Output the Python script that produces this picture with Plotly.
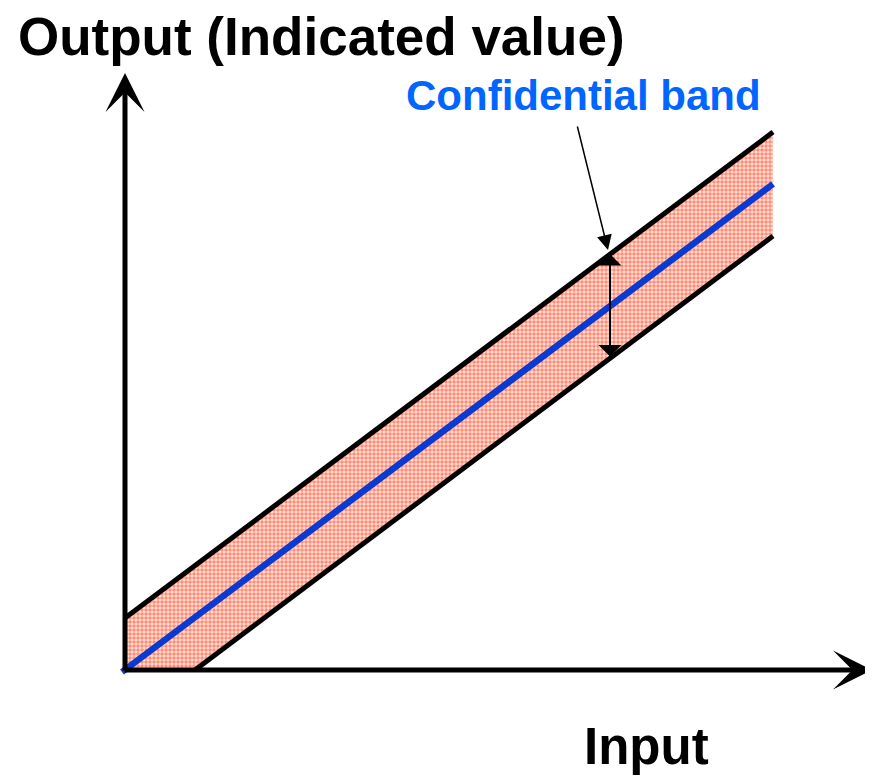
import plotly.graph_objects as go

# data units = pixels right of / above the origin of the sketch
BLUE_X = [-3, 648]
BLUE_Y = [-2, 486]
UPPER_X = [0, 648]
UPPER_Y = [52, 538]
LOWER_X = [70, 648]
LOWER_Y = [0, 434]
BAND_X = [0, 0, 648, 648, 70, 0]
BAND_Y = [0, 52, 538, 434, 0, 0]
GAP_X = 485
GAP_TOP = 416
GAP_BOTTOM = 312

BLACK = '#000000'
LINE_BLUE = '#0a3ad0'
TEXT_BLUE = '#0066ff'
FONT = 'Liberation Sans, Arial, sans-serif'
W, H = 865, 769  # page body keeps an 8px margin

fig = go.Figure()
fig.add_trace(go.Scatter(
    x=BAND_X, y=BAND_Y, mode='none', fill='toself',
    fillcolor='rgba(255,200,185,1)',
    fillpattern=dict(shape='.', fgcolor='#ff3010', bgcolor='#ffe4da', size=4, solidity=0.6),
    hoverinfo='skip'))
fig.add_trace(go.Scatter(x=UPPER_X, y=UPPER_Y, mode='lines', line=dict(color=BLACK, width=5)))
fig.add_trace(go.Scatter(x=LOWER_X, y=LOWER_Y, mode='lines', line=dict(color=BLACK, width=5)))
fig.add_trace(go.Scatter(x=BLUE_X, y=BLUE_Y, mode='lines', line=dict(color=LINE_BLUE, width=6.5)))

# axes with arrow heads
for tip, tail in [((0, 597), (0, -2)), ((747, 0), (-2, 0))]:
    fig.add_annotation(x=tip[0], y=tip[1], ax=tail[0], ay=tail[1], xref='x', yref='y',
                       axref='x', ayref='y', text='', showarrow=True,
                       arrowhead=3, arrowsize=1.3, arrowwidth=5, arrowcolor=BLACK)

# band width marker
fig.add_annotation(x=GAP_X, y=GAP_TOP, ax=GAP_X, ay=GAP_BOTTOM, xref='x', yref='y',
                   axref='x', ayref='y', text='', showarrow=True, arrowside='end+start',
                   arrowhead=1, startarrowhead=1, arrowsize=1.9, startarrowsize=1.9,
                   arrowwidth=2, arrowcolor=BLACK)
fig.add_annotation(x=483, y=420, ax=452, ay=545, xref='x', yref='y',
                   axref='x', ayref='y', text='', showarrow=True,
                   arrowhead=2, arrowsize=2, arrowwidth=1.5, arrowcolor=BLACK)
fig.add_annotation(x=458, y=575, xref='x', yref='y', text='<b>Confidential band</b>',
                   showarrow=False, xanchor='center', yanchor='middle',
                   font=dict(family=FONT, size=42, color=TEXT_BLUE))

fig.add_annotation(x=8 / W, y=1 - 28 / H, xref='paper', yref='paper', xanchor='left',
                   yanchor='middle', text='<b>Output (Indicated value)</b>', showarrow=False,
                   font=dict(family=FONT, size=53, color=BLACK))
fig.add_annotation(x=638 / W, y=1 - 738 / H, xref='paper', yref='paper',
                   xanchor='center', yanchor='middle',
                   text='<b>Input</b>', showarrow=False,
                   font=dict(family=FONT, size=51, color=BLACK))

fig.update_layout(
    width=W, height=H, showlegend=False,
    margin=dict(l=0, r=0, t=0, b=0, pad=0),
    paper_bgcolor='white', plot_bgcolor='white',
)
fig.update_xaxes(range=[-117, W - 117], visible=False, fixedrange=True)
fig.update_yaxes(range=[662 - H, 662], visible=False, fixedrange=True)

fig.write_html('out.html')
